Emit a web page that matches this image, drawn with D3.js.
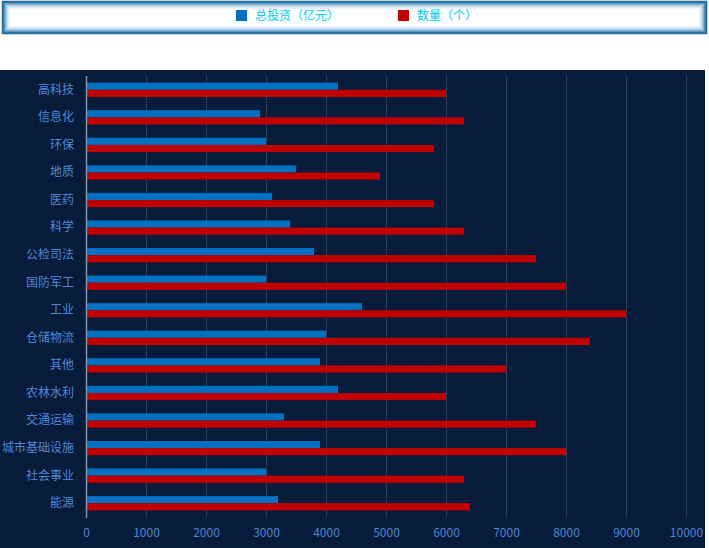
<!DOCTYPE html>
<html><head><meta charset="utf-8">
<script src="https://cdn.jsdelivr.net/npm/d3@7/dist/d3.min.js"></script>
<style>
html,body{margin:0;padding:0;background:#fff;}
svg{display:block;font-family:"Noto Sans CJK SC","Microsoft YaHei",sans-serif;}
</style></head>
<body>
<script>
const categories = ["高科技","信息化","环保","地质","医药","科学","公检司法","国防军工","工业","仓储物流","其他","农林水利","交通运输","城市基础设施","社会事业","能源"];
const investment = [4200,2900,3000,3500,3100,3400,3800,3000,4600,4000,3900,4200,3300,3900,3000,3200];
const counts = [6000,6300,5800,4900,5800,6300,7500,8000,9000,8400,7000,6000,7500,8000,6300,6400];
const seriesNames = ["总投资（亿元）","数量（个）"];
const seriesColors = ["#0070c0","#c00000"];
const xTicks = [0,1000,2000,3000,4000,5000,6000,7000,8000,9000,10000];

const W = 709, H = 548;
const svg = d3.select("body").append("svg").attr("width", W).attr("height", H);

// legend box with inner glow
const box = {x:2, y:1, w:705, h:33};
const glow = ["#1a6798","#2f7aa8","#5a97c0","#86b3d3","#aacbe2","#c8dded","#dfebf5","#eef5fa"];
glow.forEach((c,i)=>{
  svg.append("rect").attr("x", box.x+0.5+i).attr("y", box.y+0.5+i)
    .attr("width", box.w-1-2*i).attr("height", box.h-1-2*i)
    .attr("fill", i===glow.length-1 ? "#ffffff" : "none").attr("stroke", c).attr("stroke-width", i<2?1.5:1);
});

const legendX = [236, 398];
seriesNames.forEach((n,i)=>{
  svg.append("rect").attr("x", legendX[i]).attr("y", 10).attr("width", 11).attr("height", 11).attr("fill", seriesColors[i]);
  svg.append("text").attr("x", legendX[i]+19).attr("y", 15.5).attr("dy","0.35em")
    .attr("font-size", 12).attr("fill", "#00c8f8").text(n);
});

// plot background
svg.append("rect").attr("x",0).attr("y",70).attr("width",705).attr("height",H-70).attr("fill","#071b3a");

const x = d3.scaleLinear().domain([0,10000]).range([86,686]);
const y = d3.scaleBand().domain(categories).range([76,517]).paddingInner(0.48).paddingOuter(0.24);
const y1 = d3.scaleBand().domain([0,1]).range([0,y.bandwidth()]);

// grid
svg.append("g").selectAll("line").data(xTicks.filter(t=>t>0)).join("line")
  .attr("x1", d=>x(d)+0.5).attr("x2", d=>x(d)+0.5).attr("y1",76).attr("y2",517)
  .attr("stroke","#2f3f5a").attr("stroke-width",1);

// bars
const data = categories.map((c,i)=>({c, v:[investment[i], counts[i]]}));
const g = svg.append("g");
data.forEach(d=>{
  d.v.forEach((v,k)=>{
    g.append("rect").attr("x", x(0)).attr("y", y(d.c)+y1(k))
      .attr("width", x(v)-x(0)).attr("height", y1.bandwidth()).attr("fill", seriesColors[k]);
  });
});

// axis line
svg.append("line").attr("x1",86.5).attr("x2",86.5).attr("y1",76).attr("y2",518)
  .attr("stroke","#8794a8").attr("stroke-width",1.5);

// x axis labels
const xa = svg.append("g").attr("transform","translate(0,528)")
  .call(d3.axisBottom(x).tickValues(xTicks).tickSize(0).tickPadding(0).tickFormat(d3.format("d")));
xa.select(".domain").remove();
xa.selectAll("text").attr("fill","#4a88d6").attr("font-size",12).attr("font-family","'Noto Sans CJK SC',sans-serif");

// y axis labels
const ya = svg.append("g").attr("transform","translate(74,0)")
  .call(d3.axisLeft(y).tickSize(0).tickPadding(0));
ya.select(".domain").remove();
ya.selectAll("text").attr("fill","#5088d6").attr("font-size",12).attr("font-family","'Noto Sans CJK SC',sans-serif");
</script>
</body></html>
